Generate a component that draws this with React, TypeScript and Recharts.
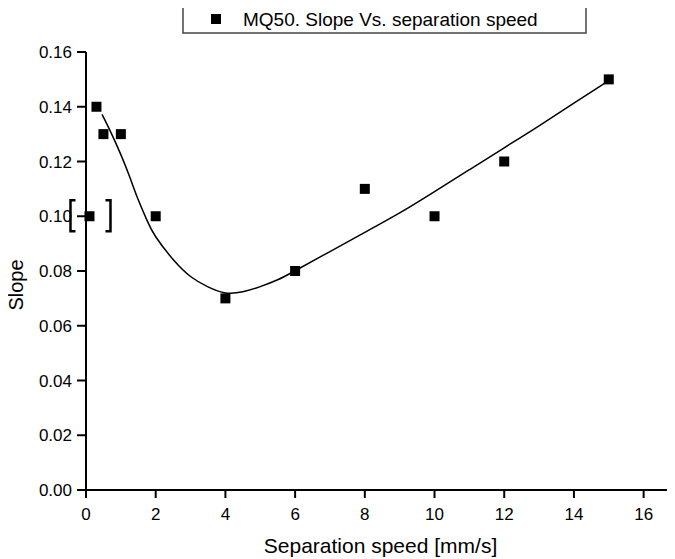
import { ComposedChart, Legend, Line, Scatter, XAxis, YAxis } from 'recharts'

// measured points
const speeds = [0.1, 0.3, 0.5, 1, 2, 4, 6, 8, 10, 12, 15]
const slopes = [0.1, 0.14, 0.13, 0.13, 0.1, 0.07, 0.08, 0.11, 0.1, 0.12, 0.15]

// smooth fit curve
const fitSpeeds = [
  0.46, 0.7, 1, 1.25, 1.5, 1.75, 2, 2.5, 3, 3.5, 4, 4.5, 5, 5.5, 6, 7, 8, 9, 10, 11, 12, 13, 14, 15,
]
const fitSlopes = [
  0.1372, 0.131, 0.1225, 0.1145, 0.106, 0.0985, 0.0925, 0.0842, 0.078, 0.0742, 0.072, 0.0724,
  0.0743, 0.0768, 0.0801, 0.0871, 0.0941, 0.1012, 0.109, 0.117, 0.125, 0.133, 0.1413, 0.1495,
]

const xMajorTicks = [0, 2, 4, 6, 8, 10, 12, 14, 16]
const xMinorTicks = [1, 3, 5, 7, 9, 11, 13, 15]
const yMajorTicks = [0, 0.02, 0.04, 0.06, 0.08, 0.1, 0.12, 0.14, 0.16]
const yMinorTicks = [0.01, 0.03, 0.05, 0.07, 0.09, 0.11, 0.13, 0.15]

const seriesName = 'MQ50. Slope Vs. separation speed'
const xTitle = 'Separation speed [mm/s]'
const yTitle = 'Slope'

const points = speeds.map((x, i) => ({ x, y: slopes[i] }))
const fit = fitSpeeds.map((x, i) => ({ x, y: fitSlopes[i] }))

const font = '"Liberation Sans", Arial, sans-serif'
const xDomain = [0, 16.9]
const yDomain = [0, 0.16]

function SquareDot(props: any) {
  const { cx, cy, index } = props
  if (cx == null || cy == null) return null
  return (
    <g>
      <rect x={cx - 5} y={cy - 5} width={10} height={10} fill="#000" />
      {index === 0 && (
        <g stroke="#000" strokeWidth={2.5} fill="none">
          <path d={`M${cx - 14},${cy - 16} H${cx - 19} V${cy + 15} H${cx - 14}`} />
          <path d={`M${cx + 16},${cy - 16} H${cx + 21} V${cy + 15} H${cx + 16}`} />
        </g>
      )}
    </g>
  )
}

function LegendBox() {
  return (
    <svg width={406} height={32} style={{ display: 'block', overflow: 'visible' }}>
      <rect x={1} y={2} width={403} height={28} fill="#fff" stroke="#444" strokeWidth={1.5} />
      <rect x={29} y={11} width={10} height={10} fill="#000" />
      <text x={61} y={16} dominantBaseline="central" fontSize={19} fontFamily={font} fill="#000">
        {seriesName}
      </text>
    </svg>
  )
}

function YTitle(props: any) {
  const { viewBox } = props
  const x = viewBox.x + 16
  const y = viewBox.y + viewBox.height / 2 + 14
  return (
    <text
      x={x}
      y={y}
      transform={`rotate(-90, ${x}, ${y})`}
      textAnchor="middle"
      dominantBaseline="central"
      fontSize={20}
      fontFamily={font}
      fill="#000"
    >
      {yTitle}
    </text>
  )
}

function XTitle(props: any) {
  const { viewBox } = props
  return (
    <text
      x={viewBox.x + viewBox.width / 2}
      y={viewBox.y + 55}
      textAnchor="middle"
      dominantBaseline="central"
      fontSize={21}
      fontFamily={font}
      fill="#000"
    >
      {xTitle}
    </text>
  )
}

export default function App() {
  const tickStyle = { fill: '#000', fontSize: 17, fontFamily: font }
  return (
    <div style={{ margin: '-8px 0 0 -8px', width: 675, height: 559, background: '#fff' }}>
      <ComposedChart width={675} height={559} margin={{ top: 52, right: 0, bottom: 0, left: 0 }}>
        <XAxis
          xAxisId="minor"
          type="number"
          dataKey="x"
          domain={xDomain}
          allowDataOverflow
          ticks={xMinorTicks}
          tickSize={5}
          axisLine={false}
          tickLine={{ stroke: '#000', strokeWidth: 2 }}
          tickFormatter={() => ''}
          height={0}
        />
        <YAxis
          yAxisId="minor"
          type="number"
          dataKey="y"
          domain={yDomain}
          allowDataOverflow
          ticks={yMinorTicks}
          tickSize={5}
          axisLine={false}
          tickLine={{ stroke: '#000', strokeWidth: 2 }}
          tickFormatter={() => ''}
          width={0}
        />
        <XAxis
          type="number"
          dataKey="x"
          domain={xDomain}
          ticks={xMajorTicks}
          tickSize={8}
          tickMargin={10}
          axisLine={{ stroke: '#000', strokeWidth: 2 }}
          tickLine={{ stroke: '#000', strokeWidth: 2 }}
          tick={tickStyle}
          height={69}
          label={<XTitle />}
        />
        <YAxis
          type="number"
          dataKey="y"
          domain={yDomain}
          ticks={yMajorTicks}
          tickSize={9}
          tickMargin={5}
          tickFormatter={(v: number) => v.toFixed(2)}
          axisLine={{ stroke: '#000', strokeWidth: 2 }}
          tickLine={{ stroke: '#000', strokeWidth: 2 }}
          tick={tickStyle}
          width={86}
          label={<YTitle />}
        />
        <Legend
          layout="horizontal"
          verticalAlign="middle"
          align="center"
          content={<LegendBox />}
          wrapperStyle={{ top: 3, left: 182, width: 406, height: 32 }}
        />
        <Line
          data={fit}
          dataKey="y"
          type="natural"
          stroke="#000"
          strokeWidth={1.5}
          dot={false}
          activeDot={false}
          legendType="none"
          isAnimationActive={false}
        />
        <Scatter
          data={points}
          dataKey="y"
          name={seriesName}
          fill="#000"
          shape={<SquareDot />}
          isAnimationActive={false}
        />
      </ComposedChart>
    </div>
  )
}
